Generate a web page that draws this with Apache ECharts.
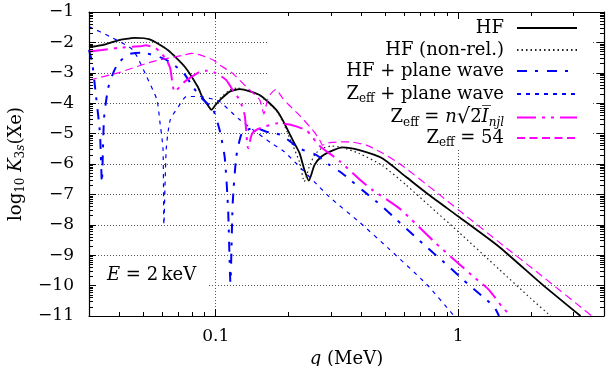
<!DOCTYPE html>
<html><head><meta charset="utf-8">
<script src="https://cdn.jsdelivr.net/npm/echarts@6/dist/echarts.min.js"></script>
<style>html,body{margin:0;padding:0;background:#fff}#c{width:616px;height:366px}</style>
</head><body><div id="c"></div>
<script>
const FONT = '"DejaVu Serif", serif';

// ---- data: q (MeV) and log10 K values ----
const qHF  = [0.03,0.034,0.0396,0.042,0.0464,0.0534,0.0634,0.0745,0.0843,0.0884,0.0925,0.096,0.1,0.104,0.1142,0.1256,0.1518,0.1778,0.1887,0.2074,0.2217,0.2324,0.2421,0.2556,0.2723,0.2944,0.3332,0.3914,0.4866,0.6091,0.7597,1.0,1.475,2.223,3.2];
const vHF  = [-2.16,-2.09,-1.93,-1.89,-1.85,-1.9,-2.25,-2.8,-3.46,-3.83,-4.05,-4.22,-4.05,-3.9,-3.62,-3.54,-3.73,-4.22,-4.55,-5.2,-5.64,-6.2,-6.55,-6.03,-5.76,-5.6,-5.45,-5.54,-5.81,-6.42,-7.02,-7.72,-8.72,-9.96,-11.0];

const qNR  = [0.03,0.035,0.04,0.0464,0.0534,0.0634,0.0745,0.0843,0.0884,0.096,0.104,0.114,0.122,0.15,0.178,0.19,0.207,0.222,0.232,0.243,0.256,0.272,0.30,0.33,0.39,0.487,0.61,0.76,1.0,1.475,2.0,2.41];
const vNR  = [-2.16,-2.05,-1.93,-1.86,-1.9,-2.25,-2.8,-3.46,-3.83,-4.2,-3.85,-3.57,-3.5,-3.72,-4.25,-4.65,-5.35,-5.95,-6.58,-6.1,-5.7,-5.5,-5.41,-5.45,-5.65,-6.05,-6.69,-7.37,-8.22,-9.46,-10.43,-11.0];

const qHFPW = [0.03,0.0309,0.032,0.0333,0.0339,0.0346,0.036,0.038,0.0396,0.0434,0.0487,0.052,0.0617,0.0731,0.0796,0.0861,0.0973,0.1039,0.109,0.1125,0.115,0.1175,0.1216,0.1281,0.138,0.1478,0.1619,0.1866,0.2217,0.2596,0.2944,0.3332,0.403,0.487,0.588,0.739,0.918,1.11,1.406,1.475];
const vHFPW = [-2.25,-2.65,-3.7,-5.0,-6.6,-4.5,-3.5,-2.95,-2.69,-2.4,-2.34,-2.36,-2.55,-2.97,-3.4,-3.78,-4.2,-4.9,-5.8,-7.5,-9.9,-7.3,-5.76,-4.99,-4.85,-4.83,-4.94,-5.05,-5.49,-5.7,-6.03,-6.31,-6.86,-7.4,-8.0,-8.72,-9.38,-9.98,-10.69,-11.0];

const qZPW = [0.03,0.0366,0.0455,0.0519,0.0572,0.0588,0.0606,0.0611,0.0625,0.0649,0.0702,0.0757,0.0861,0.0943,0.1039,0.1238,0.149,0.1699,0.1922,0.2944,0.39,0.52,0.74,0.963];
const vZPW = [-1.48,-1.81,-2.25,-3.13,-3.89,-4.6,-5.5,-8.0,-5.5,-4.55,-4.11,-3.78,-3.78,-3.84,-3.95,-4.5,-4.99,-5.32,-5.6,-7.08,-7.9,-8.8,-9.95,-11.0];

const qZN = [0.03,0.0339,0.0396,0.0497,0.0513,0.0563,0.0588,0.0627,0.0649,0.0677,0.0745,0.0861,0.0915,0.0994,0.1106,0.1175,0.1256,0.1317,0.136,0.1413,0.149,0.159,0.1803,0.2018,0.2371,0.2679,0.3238,0.3914,0.4429,0.5724,0.8097,1.04,1.18,1.34,1.517,1.65];
const vZN = [-2.3,-2.25,-2.18,-2.12,-2.09,-2.19,-2.3,-2.58,-2.85,-3.62,-3.29,-2.96,-2.93,-3.0,-3.24,-3.57,-3.9,-4.4,-5.48,-5.0,-4.85,-4.77,-4.66,-4.7,-4.9,-5.4,-5.9,-6.5,-6.85,-7.46,-8.61,-9.38,-9.76,-10.14,-10.69,-11.0];

const qZ54 = [0.03,0.0396,0.0548,0.0745,0.0796,0.0861,0.0976,0.104,0.1175,0.1337,0.1518,0.158,0.165,0.177,0.1887,0.2,0.2217,0.251,0.268,0.276,0.287,0.30,0.33,0.356,0.418,0.487,0.572,0.835,1.0,1.475,2.223,3.46,3.56];
const vZ54 = [-3.24,-3.0,-2.63,-2.41,-2.36,-2.41,-2.58,-2.75,-3.02,-3.46,-3.89,-4.35,-3.8,-3.55,-3.83,-4.05,-4.4,-4.88,-5.2,-5.38,-5.32,-5.29,-5.27,-5.27,-5.38,-5.64,-5.98,-7.0,-7.5,-8.57,-9.69,-10.92,-11.0];

// ---- axis ticks ----
const xLabelValues = [0.1, 1];
const xMinorTicks = [0.04,0.05,0.06,0.07,0.08,0.09,0.2,0.3,0.4,0.5,0.6,0.7,0.8,0.9,2,3];
const yMinorTicks = [];
for (let n = -11; n < -1; n++) for (let k = 2; k <= 9; k++) yMinorTicks.push(n + Math.log10(k));

const names = ['HF','HF (non-rel.)','HF + plane wave','Zeff + plane wave','Zeff = n sqrt(2Injl)','Zeff = 54'];
const legendRich = {
  'HF': '{r|HF}',
  'HF (non-rel.)': '{r|HF (non-rel.)}',
  'HF + plane wave': '{r|HF + plane wave}',
  'Zeff + plane wave': '{r|Z}{s|eff}{r| + plane wave}',
  'Zeff = n sqrt(2Injl)': '{r|Z}{s|eff}{r| = }{i|n}{q|\u221A}{r|2\u0305}{i|I\u0305}{si|njl}',
  'Zeff = 54': '{r|Z}{s|eff}{r| = 54}'
};
const richStyles = {
  r: {fontFamily: FONT, fontSize: 18, color: '#000', lineHeight: 22},
  i: {fontFamily: FONT, fontSize: 18, fontStyle: 'italic', color: '#000', lineHeight: 22},
  q: {fontFamily: FONT, fontSize: 21, color: '#000', lineHeight: 22},
  s: {fontFamily: FONT, fontSize: 12, color: '#000', lineHeight: 12, verticalAlign: 'bottom'},
  si: {fontFamily: FONT, fontSize: 12, fontStyle: 'italic', color: '#000', lineHeight: 12, verticalAlign: 'bottom'}
};

const toData = (q, v) => q.map((x, i) => [x, v[i]]);
const styles = [
  {color: '#000', width: 1.8, type: 'solid'},
  {color: '#222', width: 1.2, type: [1.5, 3]},
  {color: '#0000ff', width: 2, type: [10, 8, 3, 9]},
  {color: '#0000ff', width: 1.2, type: [4, 5]},
  {color: '#ff00ff', width: 2, type: [19, 6, 3, 6, 3, 6]},
  {color: '#ff00ff', width: 1.2, type: [8, 4.5]}
];
const datasets = [[qHF,vHF],[qNR,vNR],[qHFPW,vHFPW],[qZPW,vZPW],[qZN,vZN],[qZ54,vZ54]];

const series = names.map((n, i) => ({
  name: n, type: 'line', xAxisIndex: 0, yAxisIndex: 0,
  data: toData(datasets[i][0], datasets[i][1]),
  symbol: 'none', smooth: 0.2, z: 2 + i * 0.01,
  lineStyle: styles[i], itemStyle: {color: styles[i].color},
  emphasis: {disabled: true}, animation: false
}));

const rowTops = [19, 41, 62, 85, 107, 129];
const legends = names.map((n, i) => ({
  data: [n], orient: 'vertical', right: 38, top: rowTops[i], padding: 0,
  align: 'right', itemWidth: 60, itemHeight: 12, selectedMode: false,
  itemStyle: {opacity: 0},
  formatter: name => legendRich[name],
  textStyle: {rich: richStyles, padding: [0, 8, 0, 0]}
}));

const X_MIN = 0.03, X_MAX = 4, Y_MIN = -11, Y_MAX = -1;
const frameLine = {show: true, lineStyle: {color: '#000', width: 1.2}};
const baseX = {type: 'log', logBase: 10, min: X_MIN, max: X_MAX, axisLine: {onZero: false, show: false}, axisLabel: {show: false}, axisTick: {show: false}, splitLine: {show: false}};
const baseY = {type: 'value', min: Y_MIN, max: Y_MAX, interval: 1, axisLine: {onZero: false, show: false}, axisLabel: {show: false}, axisTick: {show: false}, splitLine: {show: false}};

const option = {
  backgroundColor: '#fff',
  animation: false,
  grid: {left: 89, right: 12, top: 12, bottom: 50, outerBoundsMode: 'none'},
  xAxis: [
    Object.assign({}, baseX, {position: 'bottom', z: 0,
      name: '{i|q}{r| (MeV)}', nameLocation: 'middle', nameGap: 27,
      nameTextStyle: {rich: {i: {fontFamily: FONT, fontSize: 18, fontStyle: 'italic', color: '#000'}, r: {fontFamily: FONT, fontSize: 18, color: '#000'}}},
      axisLabel: {show: true, customValues: xLabelValues, margin: 12, fontFamily: FONT, fontSize: 17, color: '#000',
        formatter: v => String(Math.round(v * 1000) / 1000)},
      axisTick: {show: false, customValues: xLabelValues},
      splitLine: {show: true, lineStyle: {color: '#555', width: 1, type: [1, 2]}}}),
    Object.assign({}, baseX, {position: 'bottom', z: 3, axisLine: Object.assign({onZero: false}, frameLine),
      axisTick: {show: true, inside: true, length: 7, customValues: xLabelValues, lineStyle: {color: '#000'}}}),
    Object.assign({}, baseX, {position: 'top', z: 3, axisLine: Object.assign({onZero: false}, frameLine),
      axisTick: {show: true, inside: true, length: 7, customValues: xLabelValues, lineStyle: {color: '#000'}}}),
    Object.assign({}, baseX, {position: 'bottom', z: 3,
      axisTick: {show: true, inside: true, length: 4, customValues: xMinorTicks, lineStyle: {color: '#000'}}}),
    Object.assign({}, baseX, {position: 'top', z: 3,
      axisTick: {show: true, inside: true, length: 4, customValues: xMinorTicks, lineStyle: {color: '#000'}}})
  ],
  yAxis: [
    Object.assign({}, baseY, {position: 'left', z: 0,
      name: '{r|log}{s|10}{r| }{i|K}{s|3}{si|s}{r|(Xe)}', nameLocation: 'middle', nameGap: 39, nameRotate: 90,
      nameTextStyle: {rich: richStyles},
      axisLabel: {show: true, margin: 15, fontFamily: FONT, fontSize: 17, color: '#000',
        formatter: v => (v < 0 ? '\u2212' + Math.abs(v) : String(v))},
      splitLine: {show: true, lineStyle: {color: '#555', width: 1, type: [1, 2]}}}),
    Object.assign({}, baseY, {position: 'left', z: 3, axisLine: Object.assign({onZero: false}, frameLine),
      axisTick: {show: true, inside: true, length: 7, lineStyle: {color: '#000'}}}),
    Object.assign({}, baseY, {position: 'right', z: 3, axisLine: Object.assign({onZero: false}, frameLine),
      axisTick: {show: true, inside: true, length: 7, lineStyle: {color: '#000'}}}),
    Object.assign({}, baseY, {position: 'left', z: 3,
      axisTick: {show: true, inside: true, length: 4, customValues: yMinorTicks, lineStyle: {color: '#000'}}}),
    Object.assign({}, baseY, {position: 'right', z: 3,
      axisTick: {show: true, inside: true, length: 4, customValues: yMinorTicks, lineStyle: {color: '#000'}}})
  ],
  legend: legends,
  graphic: [
    {type: 'rect', z: 1, shape: {x: 268, y: 13, width: 324, height: 105}, style: {fill: '#fff'}, silent: true},
    {type: 'rect', z: 1, shape: {x: 290, y: 118, width: 302, height: 32}, style: {fill: '#fff'}, silent: true},
    {type: 'rect', z: 1, shape: {x: 90, y: 263, width: 117, height: 29}, style: {fill: '#fff'}, silent: true},
    {type: 'text', z: 5, left: 107, top: 266, silent: true,
      style: {text: '{i|E}{r| = 2\u2009keV}', rich: richStyles}}
  ],
  series: series
};
const chart = echarts.init(document.getElementById('c'), null, {renderer: 'canvas'});
chart.setOption(option);
</script>
</body></html>
